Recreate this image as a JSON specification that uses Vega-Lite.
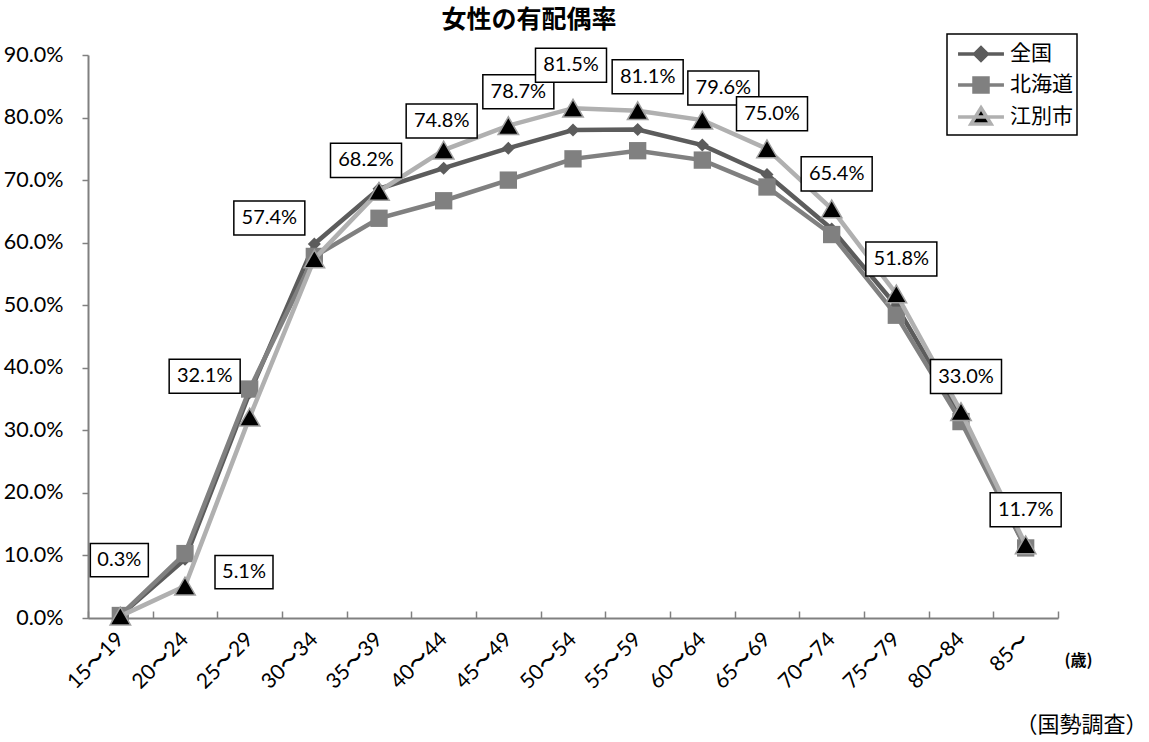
{
  "$schema": "https://vega.github.io/schema/vega-lite/v6.json",
  "width": 970,
  "height": 563,
  "autosize": {"type": "none"},
  "padding": {"left": 88, "top": 55, "right": 91, "bottom": 124},
  "background": "white",
  "title": {
    "text": "女性の有配偶率",
    "font": "Noto Sans CJK JP",
    "fontSize": 25,
    "fontWeight": "bold",
    "color": "#000000",
    "anchor": "middle",
    "frame": "group",
    "dx": -44,
    "offset": 0
  },
  "config": {
    "view": {"stroke": null},
    "legend": {
      "orient": "none",
      "legendX": 859,
      "legendY": -21,
      "strokeColor": "#000000",
      "strokeWidth": 1.5,
      "padding": 4,
      "symbolSize": 784,
      "symbolStrokeWidth": 3.5,
      "labelFont": "Noto Sans CJK JP",
      "labelFontSize": 21,
      "labelColor": "#000000",
      "labelOffset": 27,
      "rowPadding": 1,
      "title": null
    }
  },
  "data": {
    "values": [
      {"age": "15〜19", "series": "全国", "v": 0.004},
      {"age": "20〜24", "series": "全国", "v": 0.094},
      {"age": "25〜29", "series": "全国", "v": 0.360},
      {"age": "30〜34", "series": "全国", "v": 0.598},
      {"age": "35〜39", "series": "全国", "v": 0.686},
      {"age": "40〜44", "series": "全国", "v": 0.719},
      {"age": "45〜49", "series": "全国", "v": 0.751},
      {"age": "50〜54", "series": "全国", "v": 0.780},
      {"age": "55〜59", "series": "全国", "v": 0.781},
      {"age": "60〜64", "series": "全国", "v": 0.756},
      {"age": "65〜69", "series": "全国", "v": 0.709},
      {"age": "70〜74", "series": "全国", "v": 0.622},
      {"age": "75〜79", "series": "全国", "v": 0.499},
      {"age": "80〜84", "series": "全国", "v": 0.323},
      {"age": "85〜", "series": "全国", "v": 0.112},
      {"age": "15〜19", "series": "北海道", "v": 0.004},
      {"age": "20〜24", "series": "北海道", "v": 0.103},
      {"age": "25〜29", "series": "北海道", "v": 0.366},
      {"age": "30〜34", "series": "北海道", "v": 0.578},
      {"age": "35〜39", "series": "北海道", "v": 0.639},
      {"age": "40〜44", "series": "北海道", "v": 0.667},
      {"age": "45〜49", "series": "北海道", "v": 0.700},
      {"age": "50〜54", "series": "北海道", "v": 0.734},
      {"age": "55〜59", "series": "北海道", "v": 0.747},
      {"age": "60〜64", "series": "北海道", "v": 0.732},
      {"age": "65〜69", "series": "北海道", "v": 0.689},
      {"age": "70〜74", "series": "北海道", "v": 0.613},
      {"age": "75〜79", "series": "北海道", "v": 0.484},
      {"age": "80〜84", "series": "北海道", "v": 0.314},
      {"age": "85〜", "series": "北海道", "v": 0.112},
      {"age": "15〜19", "series": "江別市", "v": 0.003},
      {"age": "20〜24", "series": "江別市", "v": 0.051},
      {"age": "25〜29", "series": "江別市", "v": 0.321},
      {"age": "30〜34", "series": "江別市", "v": 0.574},
      {"age": "35〜39", "series": "江別市", "v": 0.682},
      {"age": "40〜44", "series": "江別市", "v": 0.748},
      {"age": "45〜49", "series": "江別市", "v": 0.787},
      {"age": "50〜54", "series": "江別市", "v": 0.815},
      {"age": "55〜59", "series": "江別市", "v": 0.811},
      {"age": "60〜64", "series": "江別市", "v": 0.796},
      {"age": "65〜69", "series": "江別市", "v": 0.750},
      {"age": "70〜74", "series": "江別市", "v": 0.654},
      {"age": "75〜79", "series": "江別市", "v": 0.518},
      {"age": "80〜84", "series": "江別市", "v": 0.330},
      {"age": "85〜", "series": "江別市", "v": 0.117}
    ]
  },
  "encoding": {
    "x": {
      "field": "age",
      "type": "nominal",
      "sort": null,
      "scale": {
        "type": "band",
        "paddingInner": 0,
        "paddingOuter": 0,
        "domain": ["15〜19", "20〜24", "25〜29", "30〜34", "35〜39", "40〜44", "45〜49", "50〜54", "55〜59", "60〜64", "65〜69", "70〜74", "75〜79", "80〜84", "85〜"]
      },
      "axis": {
        "title": "(歳)",
        "titleFont": "Noto Sans CJK JP",
        "titleFontSize": 16,
        "titleFontWeight": "bold",
        "titleColor": "#000000",
        "titleX": 990,
        "titleY": 42,
        "titleAlign": "center",
        "titleBaseline": "middle",
        "titleAngle": 0,
        "labelAngle": -45,
        "labelAlign": "right",
        "labelBaseline": "middle",
        "labelFont": "Lato",
        "labelFontSize": 21,
        "labelColor": "#000000",
        "labelPadding": 25,
        "tickBand": "extent",
        "tickSize": -7,
        "tickColor": "#808080",
        "tickWidth": 1.5,
        "domainColor": "#808080",
        "domainWidth": 2,
        "grid": false
      }
    },
    "y": {
      "field": "v",
      "type": "quantitative",
      "scale": {"domain": [0, 0.9], "nice": false, "zero": true},
      "axis": {
        "values": [0, 0.1, 0.2, 0.3, 0.4, 0.5, 0.6, 0.7, 0.8, 0.9],
        "format": ".1%",
        "labelFont": "Lato",
        "labelFontSize": 21.5,
        "labelColor": "#000000",
        "labelPadding": 19,
        "tickSize": 6,
        "tickColor": "#808080",
        "tickWidth": 1.5,
        "domainColor": "#808080",
        "domainWidth": 2,
        "grid": false,
        "title": "（国勢調査）",
        "titleFont": "Noto Sans CJK JP",
        "titleFontSize": 22,
        "titleFontWeight": "normal",
        "titleColor": "#000000",
        "titleAngle": 0,
        "titleX": 993,
        "titleY": 669,
        "titleAlign": "center",
        "titleBaseline": "middle"
      }
    }
  },
  "layer": [
    {
      "transform": [{"filter": "datum.series === '全国'"}],
      "mark": {"type": "line", "color": "#5c5c5c", "strokeWidth": 4.5}
    },
    {
      "transform": [{"filter": "datum.series === '全国'"}],
      "mark": {"type": "point", "shape": "diamond", "filled": true, "color": "#5c5c5c", "size": 170, "opacity": 1}
    },
    {
      "transform": [{"filter": "datum.series === '北海道'"}],
      "mark": {"type": "line", "color": "#808080", "strokeWidth": 4.5}
    },
    {
      "transform": [{"filter": "datum.series === '北海道'"}],
      "mark": {"type": "point", "shape": "square", "filled": true, "color": "#808080", "size": 300, "opacity": 1}
    },
    {
      "transform": [{"filter": "datum.series === '江別市'"}],
      "mark": {"type": "line", "color": "#b0b0b0", "strokeWidth": 4.5}
    },
    {
      "transform": [{"filter": "datum.series === '江別市'"}],
      "mark": {"type": "point", "shape": "triangle-up", "filled": true, "fill": "#000000", "stroke": "#a0a0a0", "strokeWidth": 1.5, "size": 420, "opacity": 1}
    },
    {
      "transform": [{"filter": "false"}],
      "mark": {"type": "point", "filled": true, "opacity": 1},
      "encoding": {
        "shape": {
          "field": "series",
          "type": "nominal",
          "scale": {
            "domain": ["全国", "北海道", "江別市"],
            "range": [
              "M-0.64,0H2.64M1,-0.45L1.45,0L1,0.45L0.55,0Z",
              "M-0.64,0H2.64M0.5,-0.5H1.5V0.5H0.5Z",
              "M-0.64,0H2.64M1,-0.66L1.72,0.5H0.28Z"
            ]
          },
          "legend": {"title": null}
        },
        "fill": {
          "field": "series",
          "type": "nominal",
          "scale": {"domain": ["全国", "北海道", "江別市"], "range": ["#5c5c5c", "#808080", "#000000"]},
          "legend": {"title": null}
        },
        "stroke": {
          "field": "series",
          "type": "nominal",
          "scale": {"domain": ["全国", "北海道", "江別市"], "range": ["#5c5c5c", "#808080", "#b0b0b0"]},
          "legend": {"title": null}
        }
      }
    },
    {
      "transform": [{"filter": "datum.series === '江別市' && (datum.age === '15〜19')"}],
      "layer": [
        {"mark": {"type": "point", "shape": "M-1,-0.57H1V0.57H-1Z", "size": 3364, "filled": true, "fill": "#ffffff", "stroke": "#000000", "strokeWidth": 1.5, "opacity": 1, "xOffset": -1, "yOffset": -56}},
        {"mark": {"type": "text", "font": "Lato", "fontSize": 20, "color": "#000000", "align": "center", "baseline": "middle", "xOffset": -1, "yOffset": -56}, "encoding": {"text": {"field": "v", "format": ".1%"}}}
      ]
    },
    {
      "transform": [{"filter": "datum.series === '江別市' && (datum.age === '20〜24')"}],
      "layer": [
        {"mark": {"type": "point", "shape": "M-1,-0.57H1V0.57H-1Z", "size": 3364, "filled": true, "fill": "#ffffff", "stroke": "#000000", "strokeWidth": 1.5, "opacity": 1, "xOffset": 59, "yOffset": -14}},
        {"mark": {"type": "text", "font": "Lato", "fontSize": 20, "color": "#000000", "align": "center", "baseline": "middle", "xOffset": 59, "yOffset": -14}, "encoding": {"text": {"field": "v", "format": ".1%"}}}
      ]
    },
    {
      "transform": [{"filter": "datum.series === '江別市' && (datum.age === '25〜29' || datum.age === '30〜34')"}],
      "layer": [
        {"mark": {"type": "point", "shape": "M-1,-0.48H1V0.48H-1Z", "size": 5041, "filled": true, "fill": "#ffffff", "stroke": "#000000", "strokeWidth": 1.5, "opacity": 1, "xOffset": -45, "yOffset": -41}},
        {"mark": {"type": "text", "font": "Lato", "fontSize": 20, "color": "#000000", "align": "center", "baseline": "middle", "xOffset": -45, "yOffset": -41}, "encoding": {"text": {"field": "v", "format": ".1%"}}}
      ]
    },
    {
      "transform": [{"filter": "datum.series === '江別市' && (datum.age === '35〜39')"}],
      "layer": [
        {"mark": {"type": "point", "shape": "M-1,-0.48H1V0.48H-1Z", "size": 5041, "filled": true, "fill": "#ffffff", "stroke": "#000000", "strokeWidth": 1.5, "opacity": 1, "xOffset": -13, "yOffset": -31}},
        {"mark": {"type": "text", "font": "Lato", "fontSize": 20, "color": "#000000", "align": "center", "baseline": "middle", "xOffset": -13, "yOffset": -31}, "encoding": {"text": {"field": "v", "format": ".1%"}}}
      ]
    },
    {
      "transform": [{"filter": "datum.series === '江別市' && (datum.age === '40〜44')"}],
      "layer": [
        {"mark": {"type": "point", "shape": "M-1,-0.48H1V0.48H-1Z", "size": 5041, "filled": true, "fill": "#ffffff", "stroke": "#000000", "strokeWidth": 1.5, "opacity": 1, "xOffset": -2, "yOffset": -29}},
        {"mark": {"type": "text", "font": "Lato", "fontSize": 20, "color": "#000000", "align": "center", "baseline": "middle", "xOffset": -2, "yOffset": -29}, "encoding": {"text": {"field": "v", "format": ".1%"}}}
      ]
    },
    {
      "transform": [{"filter": "datum.series === '江別市' && (datum.age === '45〜49' || datum.age === '55〜59')"}],
      "layer": [
        {"mark": {"type": "point", "shape": "M-1,-0.48H1V0.48H-1Z", "size": 5041, "filled": true, "fill": "#ffffff", "stroke": "#000000", "strokeWidth": 1.5, "opacity": 1, "xOffset": 10, "yOffset": -34}},
        {"mark": {"type": "text", "font": "Lato", "fontSize": 20, "color": "#000000", "align": "center", "baseline": "middle", "xOffset": 10, "yOffset": -34}, "encoding": {"text": {"field": "v", "format": ".1%"}}}
      ]
    },
    {
      "transform": [{"filter": "datum.series === '江別市' && (datum.age === '50〜54')"}],
      "layer": [
        {"mark": {"type": "point", "shape": "M-1,-0.48H1V0.48H-1Z", "size": 5041, "filled": true, "fill": "#ffffff", "stroke": "#000000", "strokeWidth": 1.5, "opacity": 1, "xOffset": -2, "yOffset": -43}},
        {"mark": {"type": "text", "font": "Lato", "fontSize": 20, "color": "#000000", "align": "center", "baseline": "middle", "xOffset": -2, "yOffset": -43}, "encoding": {"text": {"field": "v", "format": ".1%"}}}
      ]
    },
    {
      "transform": [{"filter": "datum.series === '江別市' && (datum.age === '60〜64')"}],
      "layer": [
        {"mark": {"type": "point", "shape": "M-1,-0.48H1V0.48H-1Z", "size": 5041, "filled": true, "fill": "#ffffff", "stroke": "#000000", "strokeWidth": 1.5, "opacity": 1, "xOffset": 21, "yOffset": -32}},
        {"mark": {"type": "text", "font": "Lato", "fontSize": 20, "color": "#000000", "align": "center", "baseline": "middle", "xOffset": 21, "yOffset": -32}, "encoding": {"text": {"field": "v", "format": ".1%"}}}
      ]
    },
    {
      "transform": [{"filter": "datum.series === '江別市' && (datum.age === '65〜69' || datum.age === '70〜74' || datum.age === '75〜79' || datum.age === '80〜84')"}],
      "layer": [
        {"mark": {"type": "point", "shape": "M-1,-0.48H1V0.48H-1Z", "size": 5041, "filled": true, "fill": "#ffffff", "stroke": "#000000", "strokeWidth": 1.5, "opacity": 1, "xOffset": 5, "yOffset": -35}},
        {"mark": {"type": "text", "font": "Lato", "fontSize": 20, "color": "#000000", "align": "center", "baseline": "middle", "xOffset": 5, "yOffset": -35}, "encoding": {"text": {"field": "v", "format": ".1%"}}}
      ]
    },
    {
      "transform": [{"filter": "datum.series === '江別市' && (datum.age === '85〜')"}],
      "layer": [
        {"mark": {"type": "point", "shape": "M-1,-0.48H1V0.48H-1Z", "size": 5041, "filled": true, "fill": "#ffffff", "stroke": "#000000", "strokeWidth": 1.5, "opacity": 1, "xOffset": 0, "yOffset": -35}},
        {"mark": {"type": "text", "font": "Lato", "fontSize": 20, "color": "#000000", "align": "center", "baseline": "middle", "xOffset": 0, "yOffset": -35}, "encoding": {"text": {"field": "v", "format": ".1%"}}}
      ]
    }
  ]
}
